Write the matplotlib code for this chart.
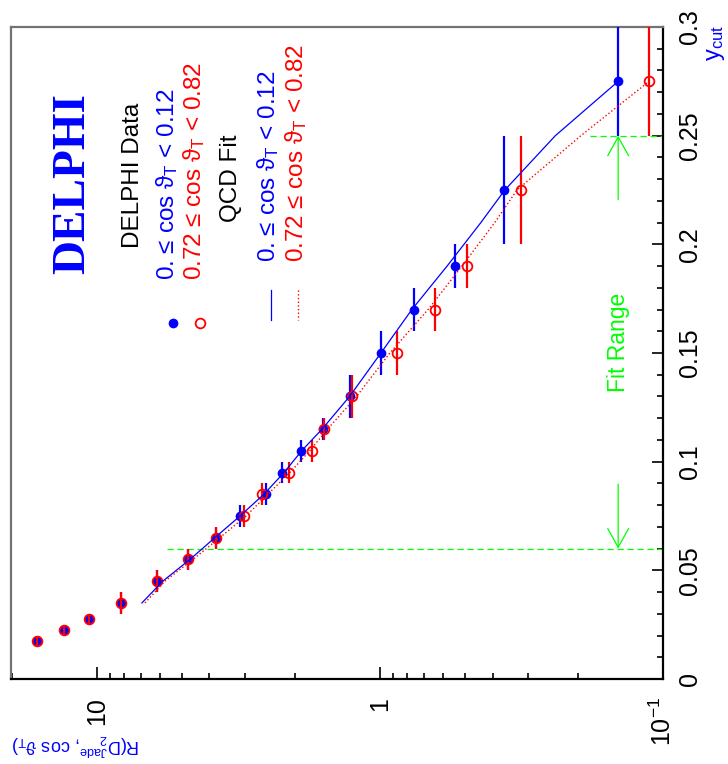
import numpy as np
import matplotlib
matplotlib.use('Agg')
import matplotlib.pyplot as plt
from matplotlib.ticker import FixedLocator, NullFormatter

plt.rcParams['font.family'] = ['Liberation Sans', 'DejaVu Sans']
plt.rcParams['mathtext.fontset'] = 'custom'
plt.rcParams['mathtext.rm'] = 'Liberation Sans'
plt.rcParams['mathtext.it'] = 'Liberation Sans:italic'

# data (y_cut bins, R values)
ycut = [0.0125, 0.0175, 0.0225, 0.0275, 0.035, 0.045, 0.055, 0.065, 0.075, 0.085,
        0.095, 0.105, 0.115, 0.13, 0.15, 0.17, 0.19, 0.225, 0.275]
ycut_err = [0.0025, 0.0025, 0.0025, 0.0025, 0.005, 0.005, 0.005, 0.005, 0.005, 0.005,
            0.005, 0.005, 0.005, 0.01, 0.01, 0.01, 0.01, 0.025, 0.025]
r_central = [21.5, 16.3, 13.1, 10.7, 8.22, 6.14, 4.77, 3.80, 3.13, 2.53,
             2.22, 1.90, 1.59, 1.28, 0.99, 0.76, 0.543, 0.365, 0.144]
r_forward = [21.5, 16.3, 13.1, 10.7, 8.22, 6.14, 4.77, 3.78, 3.03, 2.61,
             2.10, 1.74, 1.58, 1.26, 0.871, 0.640, 0.493, 0.318, 0.112]

# QCD fit curves
fit_y = [0.035, 0.045, 0.055, 0.065, 0.075, 0.085, 0.095, 0.105, 0.115, 0.13,
         0.15, 0.17, 0.19, 0.21, 0.225, 0.25, 0.275]
fit_central = [6.93, 5.85, 4.69, 3.83, 3.12, 2.57, 2.18, 1.89, 1.60, 1.28,
               0.992, 0.771, 0.579, 0.440, 0.362, 0.240, 0.144]
fit_forward = [6.76, 5.75, 4.58, 3.68, 2.97, 2.49, 2.08, 1.77, 1.53, 1.21,
               0.922, 0.676, 0.513, 0.393, 0.328, 0.195, 0.112]

fit_lo, fit_hi = 0.06, 0.25
dash_lo_r, dash_hi_r = 5.66, 0.181
arrow_r = 0.144

BLUE = '#0000ff'
RED = '#ff0000'
GREEN = '#00ff00'
W, H = 728, 764


def px(x, y):
    return x / W, 1 - y / H


fig = plt.figure(figsize=(W / 100, H / 100), dpi=100)
ax = fig.add_axes([11 / W, (H - 679) / H, (663 - 11) / W, (679 - 27) / H])

ax.set_xscale('log')
ax.set_xlim(20.1, 0.1)
ax.set_ylim(0, 0.3)

ax.errorbar(r_central, ycut, yerr=ycut_err, fmt='o', color=BLUE, ms=7, mew=0,
            elinewidth=1.6, capsize=0, zorder=3)
ax.errorbar(r_forward, ycut, yerr=ycut_err, fmt='o', color=RED, mfc='none', ms=7,
            mew=1.3, elinewidth=1.6, capsize=0, zorder=4)
ax.plot(fit_central, fit_y, color=BLUE, lw=0.9, zorder=5)
ax.plot(fit_forward, fit_y, color=RED, lw=1.0, ls=':', zorder=5)

# fit range
ax.plot([dash_lo_r, 0.1], [fit_lo, fit_lo], color=GREEN, lw=0.9, ls=(0, (5, 3)), zorder=2)
ax.plot([dash_hi_r, 0.1], [fit_hi, fit_hi], color=GREEN, lw=0.9, ls=(0, (5, 3)), zorder=2)
ax.annotate('', xy=(arrow_r, fit_lo), xytext=(arrow_r, 0.0897),
            arrowprops=dict(arrowstyle='->,head_length=0.9,head_width=0.5', color=GREEN,
                            lw=0.9, shrinkA=0, shrinkB=0, mutation_scale=15))
ax.annotate('', xy=(arrow_r, fit_hi), xytext=(arrow_r, 0.2205),
            arrowprops=dict(arrowstyle='->,head_length=0.9,head_width=0.5', color=GREEN,
                            lw=0.9, shrinkA=0, shrinkB=0, mutation_scale=15))
ax.text(arrow_r, 0.155, 'Fit Range', color=GREEN, rotation=90, fontsize=16.5,
        ha='center', va='center')

# frame
for side in ['top', 'left']:
    ax.spines[side].set_color('#737373')
    ax.spines[side].set_linewidth(1.6)
for side in ['bottom', 'right']:
    ax.spines[side].set_color('black')
    ax.spines[side].set_linewidth(1.6)

ax.yaxis.tick_right()
ax.set_yticks([0, 0.05, 0.1, 0.15, 0.2, 0.25, 0.3])
ax.set_yticklabels(['0', '0.05', '0.1', '0.15', '0.2', '0.25', '0.3'])
ax.set_yticks(np.arange(0, 0.3001, 0.01), minor=True)
ax.tick_params(axis='y', which='major', direction='in', length=8, width=1.2,
               labelsize=18, pad=11, labelrotation=90)
ax.tick_params(axis='y', which='minor', direction='in', length=4.5, width=1.2)
for lab in ax.get_yticklabels():
    lab.set_va('center')
    lab.set_ha('left')

ax.xaxis.set_major_locator(FixedLocator([10, 1, 0.1]))
ax.set_xticklabels(['10', '1', '$10^{-1}$'])
minor = [m * d for d in (0.1, 1, 10) for m in range(2, 10) if m * d < 20.1]
ax.xaxis.set_minor_locator(FixedLocator(minor))
ax.xaxis.set_minor_formatter(NullFormatter())
ax.tick_params(axis='x', which='major', direction='in', length=9, width=1.2,
               labelsize=18, pad=13, labelrotation=90)
ax.tick_params(axis='x', which='minor', direction='in', length=4.5, width=1.2)

# axis titles
fig.text(*px(716, 43), 'y$_{\\mathrm{cut}}$', color=BLUE, fontsize=17, rotation=90,
         ha='center', va='center')
fig.text(*px(76, 745), 'R(D$_{2}^{\\mathrm{Jade}}$, cos ϑ$_{\\mathrm{T}}$)',
         color=BLUE, fontsize=13, rotation=180, ha='center', va='center')

# legend
fig.text(*px(73, 183), 'DELPHI', color=BLUE, fontsize=34, fontweight='bold',
         family='Liberation Serif', rotation=90, ha='center', va='center')
fig.text(*px(133, 248), 'DELPHI Data', color='black', fontsize=17.5, rotation=90,
         ha='center', va='bottom')
fig.text(*px(167, 280), '0. ≤ cos ϑ$_{\\mathrm{T}}$ < 0.12', color=BLUE,
         fontsize=17.5, rotation=90, ha='center', va='bottom')
fig.text(*px(194, 280), '0.72 ≤ cos ϑ$_{\\mathrm{T}}$ < 0.82', color=RED,
         fontsize=17.5, rotation=90, ha='center', va='bottom')
fig.text(*px(231, 222), 'QCD Fit', color='black', fontsize=17.5, rotation=90,
         ha='center', va='bottom')
fig.text(*px(268, 262), '0. ≤ cos ϑ$_{\\mathrm{T}}$ < 0.12', color=BLUE,
         fontsize=17.5, rotation=90, ha='center', va='bottom')
fig.text(*px(296, 262), '0.72 ≤ cos ϑ$_{\\mathrm{T}}$ < 0.82', color=RED,
         fontsize=17.5, rotation=90, ha='center', va='bottom')

lax = fig.add_axes([0, 0, 1, 1], facecolor='none')
lax.set_xlim(0, W)
lax.set_ylim(H, 0)
lax.axis('off')
lax.plot([173], [323], 'o', color=BLUE, ms=7, mew=0)
lax.plot([200], [323], 'o', color=RED, mfc='none', ms=7, mew=1.3)
lax.plot([271, 271], [290, 320], color=BLUE, lw=0.9)
lax.plot([298, 298], [290, 320], color=RED, lw=1.0, ls=':')

fig.savefig('out.png', dpi=100, facecolor='white')
